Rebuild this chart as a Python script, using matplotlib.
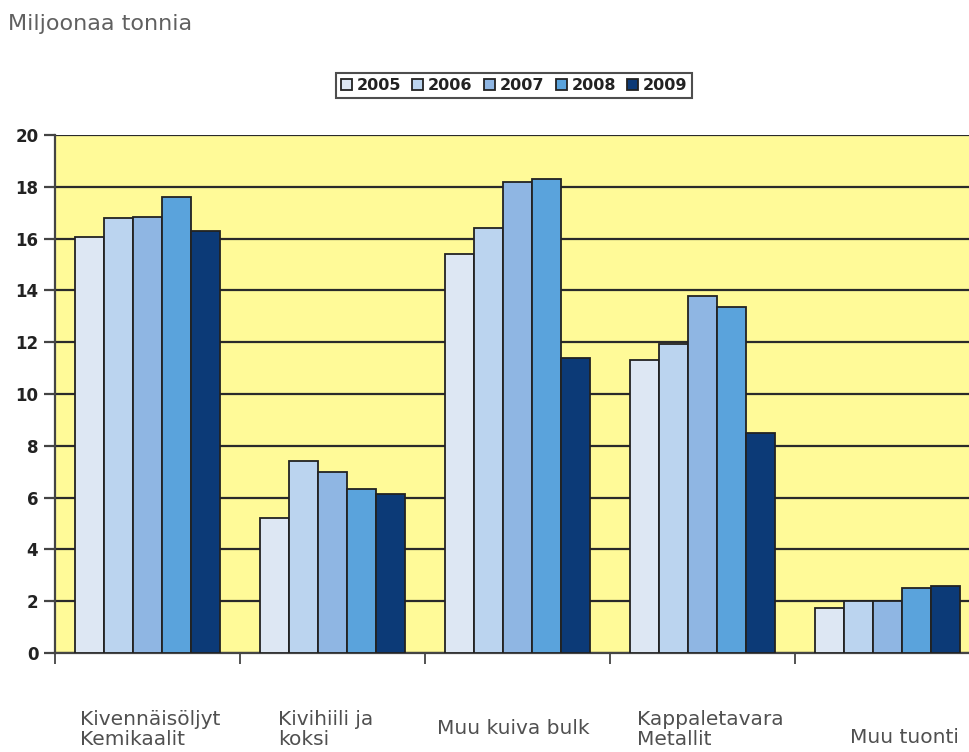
import matplotlib.pyplot as plt
import numpy as np

# luokat ja vuodet
categories = ["Kivennäisöljyt\nKemikaalit", "Kivihiili ja\nkoksi", "Muu kuiva bulk",
              "Kappaletavara\nMetallit", "Muu tuonti"]
years = ["2005", "2006", "2007", "2008", "2009"]

v2005 = [16.05, 5.2, 15.4, 11.3, 1.75]
v2006 = [16.8, 7.4, 16.4, 11.95, 2.0]
v2007 = [16.85, 7.0, 18.2, 13.8, 2.0]
v2008 = [17.6, 6.35, 18.3, 13.35, 2.5]
v2009 = [16.3, 6.15, 11.4, 8.5, 2.6]

colors = ["#DDE7F3", "#BBD4EF", "#8FB6E3", "#5AA3DC", "#0C3A77"]

# tekstien paikat (suhteessa luokan keskikohtaan)
label_dx = [-0.365, -0.295, -0.435, -0.354, -0.203]
label_y = [-0.148, -0.148, -0.145, -0.148, -0.164]

fig = plt.figure(figsize=(9.7, 7.52), dpi=100)
ax = fig.add_axes([0.0567, 0.1316, 0.9536, 0.6889])
ax.set_facecolor("#FFFA98")

x = np.arange(len(categories))
w = 0.157
series = [v2005, v2006, v2007, v2008, v2009]
for i, vals in enumerate(series):
    ax.bar(x + (i - 2) * w, vals, w, color=colors[i], edgecolor="#222222",
           linewidth=1.3, label=years[i], zorder=3)

ax.set_ylim(0, 20)
ax.set_xlim(-0.5, 4.5)
ax.set_yticks(range(0, 21, 2))
ax.yaxis.grid(True, color="#2a2a2a", linewidth=1.6, zorder=0)
ax.set_axisbelow(True)

ax.set_xticks(np.arange(-0.5, 5, 1))
ax.set_xticklabels([])
ax.tick_params(axis="x", length=8, width=1.3, color="#444444", direction="out")
ax.tick_params(axis="y", length=8, width=1.6, color="#444444", direction="out",
               labelsize=12, labelcolor="#222222", pad=4)
for lbl in ax.get_yticklabels():
    lbl.set_fontweight("bold")

for s in ["top", "right"]:
    ax.spines[s].set_visible(False)
ax.spines["left"].set_color("#444444")
ax.spines["left"].set_linewidth(1.6)
ax.spines["bottom"].set_color("#444444")
ax.spines["bottom"].set_linewidth(1.6)

for i, name in enumerate(categories):
    ax.text(i + label_dx[i], label_y[i], name, transform=ax.get_xaxis_transform(),
            ha="left", va="center", fontsize=14.5, color="#505050",
            linespacing=1.1, clip_on=False)

fig.text(0.008, 0.968, "Miljoonaa tonnia", fontsize=16, color="#606060",
         ha="left", va="center")

leg = fig.legend(loc="center", bbox_to_anchor=(0.53, 0.886), ncol=5,
                 prop={"size": 11.5, "weight": "bold"}, frameon=True,
                 fancybox=False, edgecolor="#222222",
                 handlelength=0.7, handleheight=0.7, handletextpad=0.3,
                 columnspacing=0.7, borderpad=0.3)
leg.get_frame().set_linewidth(1.5)
for t in leg.get_texts():
    t.set_color("#222222")

fig.savefig("out.png", dpi=100)
